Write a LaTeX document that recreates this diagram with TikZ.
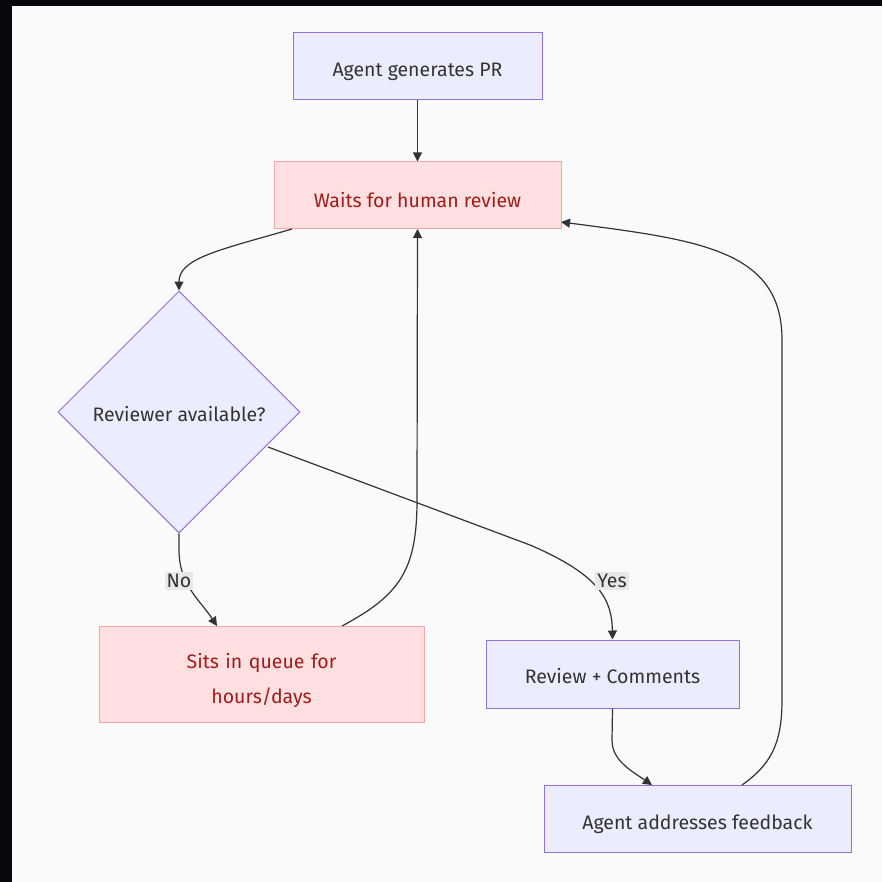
\documentclass[tikz,border=0pt]{standalone}
\usepackage{fontspec}
\setmainfont{Fira Sans}
\usetikzlibrary{shapes.geometric,arrows.meta}
\definecolor{bg}{HTML}{FAFAFA}
\definecolor{frame}{HTML}{07080C}
\definecolor{pfill}{HTML}{ECECFF}
\definecolor{pline}{HTML}{9370DB}
\definecolor{rfill}{HTML}{FFDFDF}
\definecolor{rline}{HTML}{F4A6A6}
\definecolor{rtext}{HTML}{A01C1C}
\definecolor{ink}{HTML}{333333}
\definecolor{lblbg}{HTML}{E8E8E8}
\newcommand{\lowr}[1]{\rule{0pt}{#1}}
\tikzset{
  x=1pt,y=-1pt,
  every node/.style={font=\fontsize{19.5}{24}\selectfont, text=ink},
  pbox/.style={draw=pline, fill=pfill, line width=1pt, rectangle, inner sep=0pt, align=center},
  rbox/.style={draw=rline, fill=rfill, line width=1pt, rectangle, inner sep=0pt, align=center, text=rtext},
  conn/.style={draw=ink, line width=1.2pt, -{Triangle[length=9pt,width=9pt]}},
  lbl/.style={fill=lblbg, inner sep=2pt, text=ink}
}
\begin{document}
\begin{tikzpicture}
\useasboundingbox (0,0) rectangle (882,882);
\fill[frame] (0,0) rectangle (882,882);
\fill[bg] (12,6) rectangle (882,882);

\node[pbox, minimum width=249pt, minimum height=67pt] (A) at (417.5,66.5) {\lowr{24pt}Agent generates PR};
\node[rbox, minimum width=287pt, minimum height=67pt] (W) at (417.5,195.5) {\lowr{24pt}Waits for human review};
\node[diamond, draw=pline, fill=pfill, line width=1pt, minimum width=242pt, minimum height=242pt, inner sep=0pt, aspect=1] (D) at (179,412) {\lowr{20pt}Reviewer available?};
\node[rbox, minimum width=325pt, minimum height=96pt, text width=325pt, align=center] (S) at (261.5,674) {\lowr{28pt}Sits in queue for\\[11pt]hours/days};
\node[pbox, minimum width=253pt, minimum height=68pt] (R) at (612.5,674) {\lowr{20pt}Review + Comments};
\node[pbox, minimum width=307pt, minimum height=67pt] (F) at (697.5,818.5) {\lowr{26pt}Agent addresses feedback};

\coordinate (wbl) at (292,229);
\coordinate (wbm) at (417.5,229);
\coordinate (wr) at (561,222);
\coordinate (stop) at (342,626);
\coordinate (ftop) at (742,785);
\coordinate (dyes) at (268,447);

\draw[conn] (A.south) -- (W.north);
\draw[conn] (wbl) .. controls (220,250) and (179,258) .. (D.north);
\draw[conn] (D.south) -- (179,550) .. controls (179,585) and (200,600) .. (217,626);
\draw[conn] (dyes) -- (530,545) .. controls (600,575) and (612,600) .. (R.north);
\draw[conn] (stop) .. controls (400,595) and (417,570) .. (417,500) -- (wbm);
\draw[conn] (R.south) -- (612,740) .. controls (612,760) and (630,770) .. (652,785);
\draw[conn] (ftop) .. controls (770,765) and (782,745) .. (782,700) -- (782,340) .. controls (782,250) and (700,240) .. (wr);

\node[lbl] (no) at (179,581) {No};
\node[lbl] (yes) at (612,581) {Yes};
\end{tikzpicture}
\end{document}
